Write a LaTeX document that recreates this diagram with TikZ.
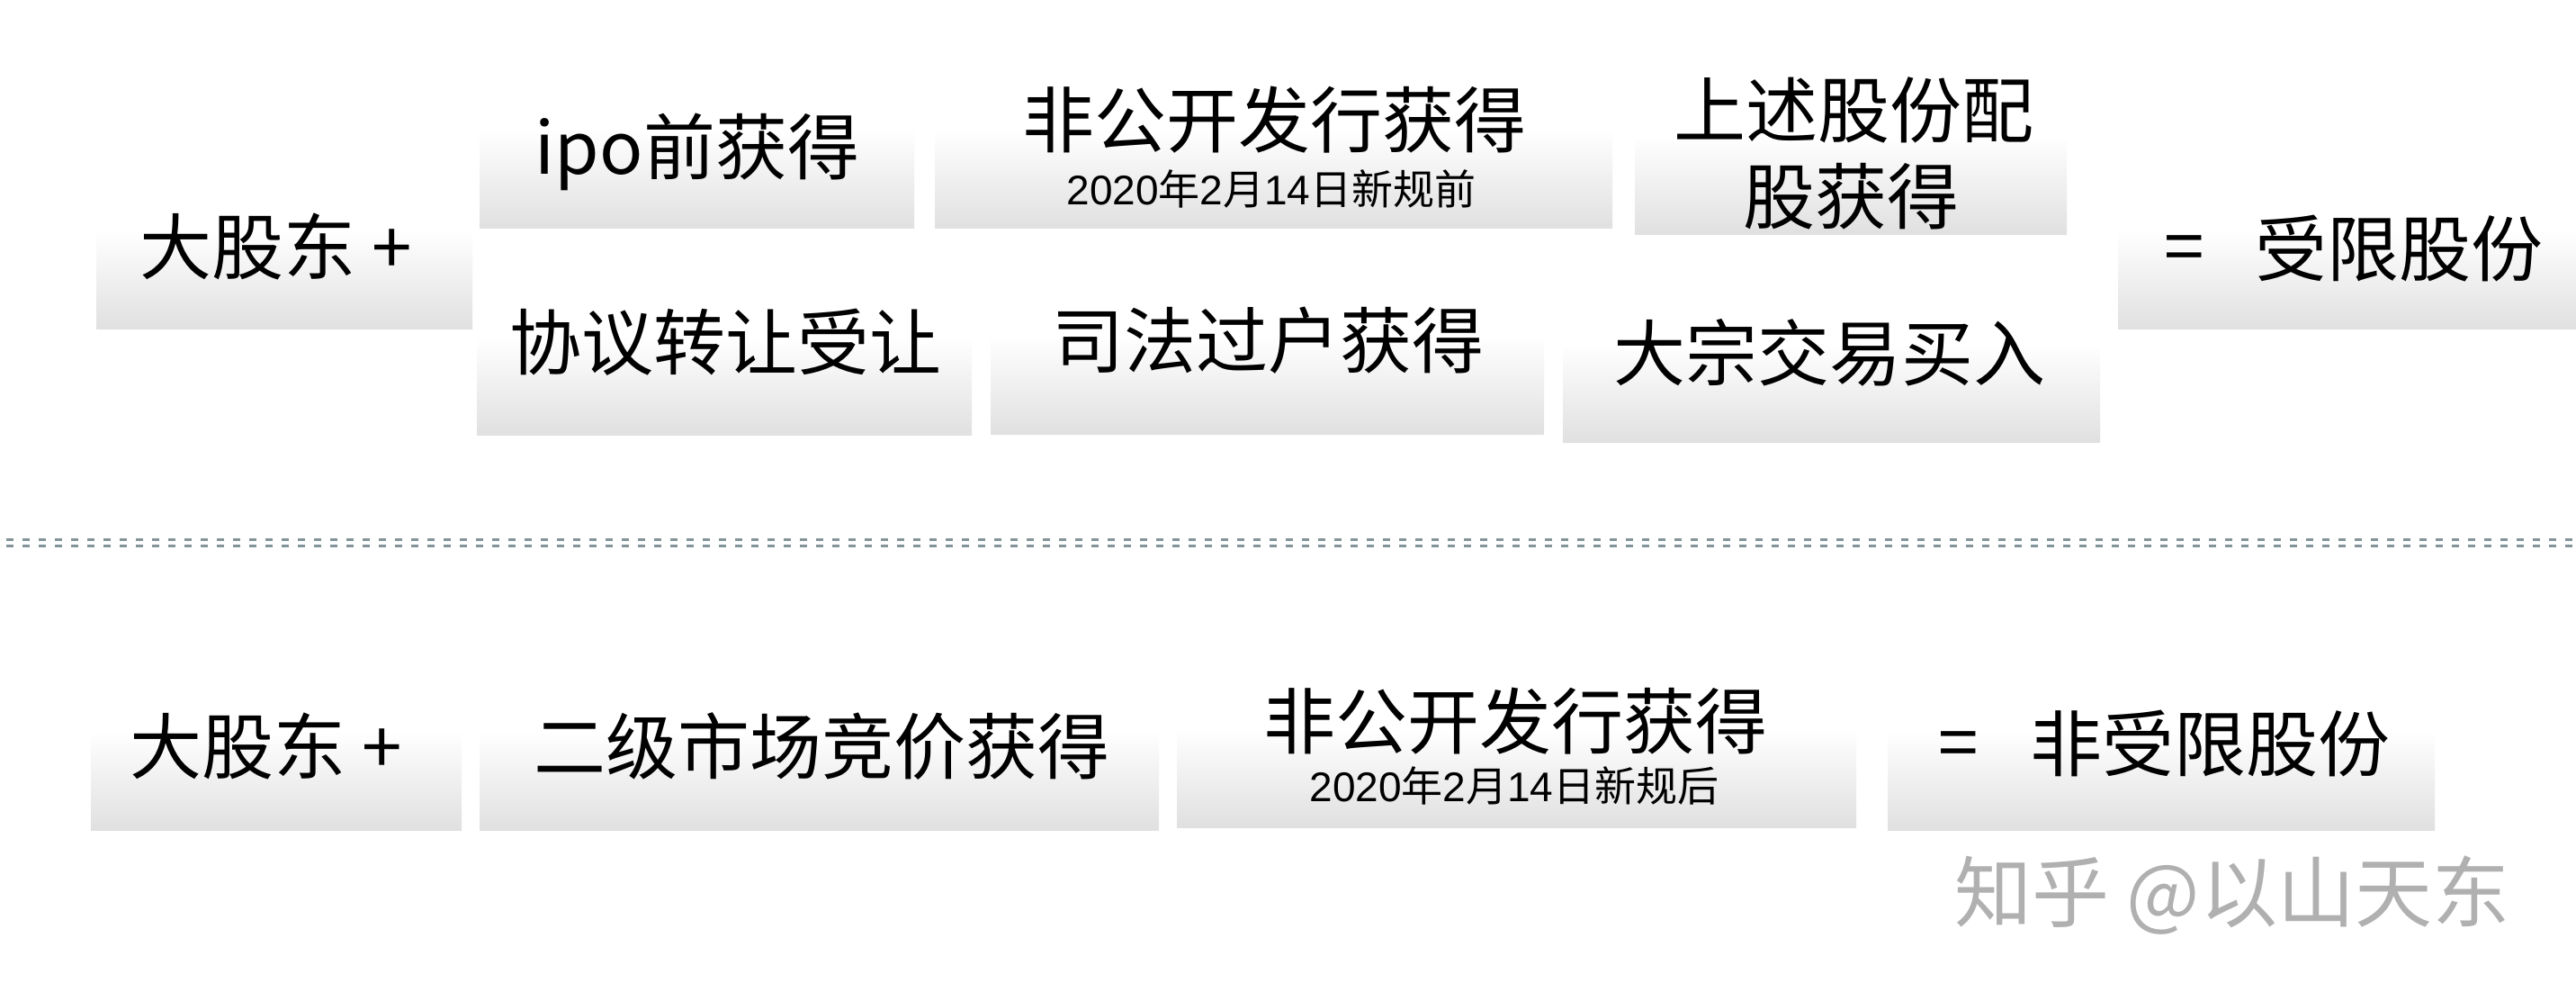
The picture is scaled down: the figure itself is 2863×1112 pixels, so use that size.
\documentclass[tikz,border=0pt]{standalone}
\usepackage{fontspec}
\setmainfont{Noto Sans CJK SC}
\newfontfamily\latinfont{Liberation Sans}
\definecolor{boxbot}{RGB}{224,224,224}
\definecolor{dotcol}{RGB}{130,148,153}
\definecolor{wmcol}{RGB}{176,176,176}
\tikzset{
  bigtext/.style={font=\fontsize{20pt}{24pt}\selectfont, inner sep=0pt, text=black},
  subtext/.style={font=\fontsize{11.5pt}{14pt}\selectfont, inner sep=0pt, text=black},
  wmtext/.style={font=\fontsize{21.5pt}{26pt}\selectfont, inner sep=0pt, text=wmcol},
  gbox/.style={top color=white, bottom color=boxbot, draw=none},
  dotrow/.style={dotcol, line width=0.9pt, dash pattern=on 2pt off 2.5pt}
}
\newcommand{\gradbox}[3]{\shade[gbox] (#1,#3-110) rectangle (#2,#3);}
\begin{document}
\begin{tikzpicture}[x=0.25pt,y=-0.25pt]
\fill[white] (0,0) rectangle (2863,1112);
\useasboundingbox (0,0) rectangle (2863,1112);
% top row boxes
\gradbox{107}{525}{366}
\gradbox{533}{1016}{254}
\gradbox{1039}{1792}{254}
\gradbox{1817}{2297}{261}
\gradbox{2354}{2863}{366}
\gradbox{530}{1080}{484}
\gradbox{1101}{1716}{483}
\gradbox{1737}{2334}{492}
% bottom row boxes
\gradbox{101}{513}{922}
\gradbox{533}{1288}{922}
\gradbox{1308}{2063}{919}
\gradbox{2098}{2706}{922}
% separator
\draw[dotrow] (7,599.5) -- (2863,599.5);
\draw[dotrow] (7,606.5) -- (2863,606.5);
% top texts
\node[bigtext] (s1) at (307,274) {大股东 +};
\node[bigtext] (ipo) at (775,169) {ipo前获得};
\node[bigtext] (fgk1) at (1416,133) {非公开发行获得};
\node[subtext] (sub1) at (1413,210) {{\latinfont 2020}年{\latinfont 2}月{\latinfont 14}日新规前};
\node[bigtext] (sspg1) at (2060,122) {上述股份配};
\node[bigtext] (sspg2) at (2057,218) {股获得};
\node[bigtext] (eq1) at (2428,283) {=};
\node[bigtext] (sx) at (2666,276) {受限股份};
\node[bigtext] (xy) at (806,380) {协议转让受让};
\node[bigtext] (sf) at (1409,378) {司法过户获得};
\node[bigtext] (dz) at (2033,392) {大宗交易买入};
% bottom texts
\node[bigtext] (s2) at (296,829) {大股东 +};
\node[bigtext] (ej) at (913,829) {二级市场竞价获得};
\node[bigtext] (fgk2) at (1684,801) {非公开发行获得};
\node[subtext] (sub2) at (1683,873) {{\latinfont 2020}年{\latinfont 2}月{\latinfont 14}日新规后};
\node[bigtext] (eq2) at (2177,834) {=};
\node[bigtext] (fsx) at (2456,826) {非受限股份};
% watermark
\node[wmtext] (wm) at (2481,995) {知乎 @以山天东};
\end{tikzpicture}
\end{document}
